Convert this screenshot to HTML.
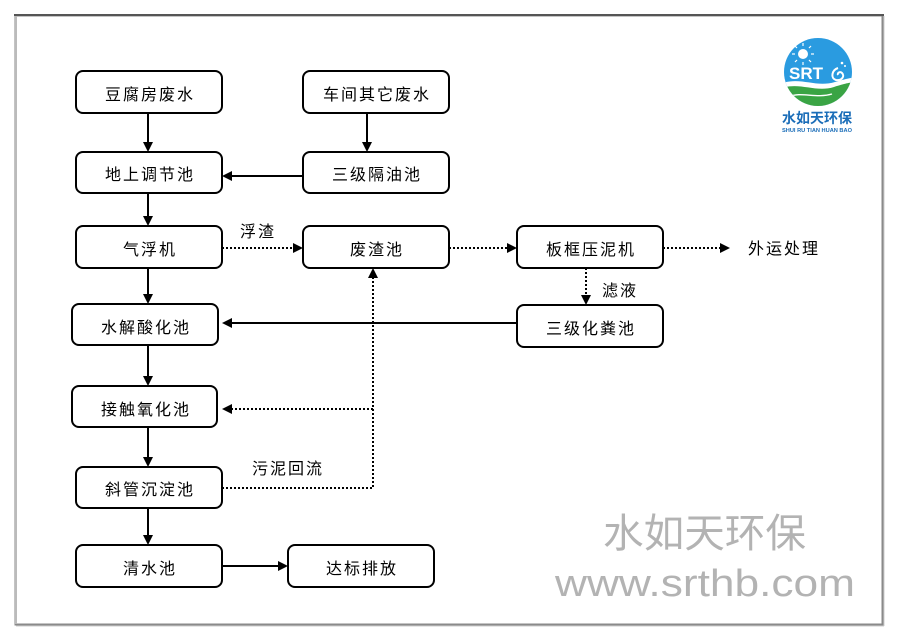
<!DOCTYPE html>
<html>
<head>
<meta charset="utf-8">
<style>
html,body{margin:0;padding:0;background:#fff;}
svg{display:block;}
text{font-family:"Liberation Sans","Noto Sans CJK SC",sans-serif;}
</style>
</head>
<body>
<svg width="900" height="642" viewBox="0 0 900 642" xmlns="http://www.w3.org/2000/svg">
<defs>
  <clipPath id="lc"><circle cx="818" cy="72" r="34"/></clipPath>
</defs>
<rect x="0" y="0" width="900" height="642" fill="#fff"/>
<!-- frame -->
<rect x="15.5" y="15.5" width="867" height="609" fill="none" stroke="#8a8a8a" stroke-width="2"/>
<line x1="14" y1="15" x2="884" y2="15" stroke="#555" stroke-width="2"/>
<line x1="16" y1="16" x2="16" y2="624" stroke="#bbb" stroke-width="2"/>
<line x1="884" y1="16" x2="884" y2="626" stroke="#ccc" stroke-width="1"/>
<line x1="16" y1="626" x2="884" y2="626" stroke="#ccc" stroke-width="1"/>

<!-- logo -->
<circle cx="818" cy="72" r="34" fill="#2a9be0"/>
<g clip-path="url(#lc)">
  <path d="M780 84 C800 76, 815 88, 835 82 S855 78, 856 78 L856 110 L780 110 Z" fill="#ffffff"/>
  <path d="M780 89 C798 81, 815 93, 834 87 S852 83, 856 83 L856 110 L780 110 Z" fill="#3aa444"/>
  <path d="M788 97 C802 91, 815 99, 832 94" stroke="#ffffff" stroke-width="1.4" fill="none"/>
</g>
<g stroke="#fff" stroke-width="1.2">
  <line x1="803" y1="43" x2="803" y2="46"/><line x1="803" y1="62" x2="803" y2="65"/>
  <line x1="792" y1="54" x2="795" y2="54"/><line x1="811" y1="54" x2="814" y2="54"/>
  <line x1="795" y1="46" x2="797" y2="48"/><line x1="809" y1="60" x2="811" y2="62"/>
  <line x1="811" y1="46" x2="809" y2="48"/><line x1="795" y1="62" x2="797" y2="60"/>
</g>
<circle cx="803" cy="54" r="5" fill="#fff"/>
<text x="806" y="79" font-size="17" font-weight="bold" fill="#fff" text-anchor="middle">SRT</text>
<path d="M838 68 C832 70, 830 78, 836 80 C842 81, 845 76, 842 73 C840 71, 837 73, 838 75" stroke="#fff" stroke-width="2" fill="none"/>
<circle cx="842" cy="63" r="1.3" fill="#fff"/>
<circle cx="845" cy="66" r="1" fill="#fff"/>
<text x="817" y="123" font-size="14" font-weight="bold" fill="#1a6db8" text-anchor="middle" textLength="70" lengthAdjust="spacingAndGlyphs">水如天环保</text>
<text x="817" y="132" font-size="5" font-weight="bold" fill="#1a6db8" text-anchor="middle" textLength="70" lengthAdjust="spacingAndGlyphs">SHUI RU TIAN HUAN BAO</text>

<!-- watermark -->
<text x="603" y="547" font-size="40" fill="#b3b3b3" textLength="203" lengthAdjust="spacingAndGlyphs">水如天环保</text>
<text x="555" y="596" font-size="38" fill="#b3b3b3" textLength="300" lengthAdjust="spacingAndGlyphs">www.srthb.com</text>

<!-- boxes -->
<g fill="#fff" stroke="#000" stroke-width="2">
  <rect x="76" y="71" width="146" height="42" rx="7"/>
  <rect x="303" y="71" width="146" height="42" rx="7"/>
  <rect x="76" y="152" width="146" height="41" rx="7"/>
  <rect x="303" y="152" width="146" height="41" rx="7"/>
  <rect x="76" y="226" width="146" height="42" rx="7"/>
  <rect x="303" y="226" width="146" height="42" rx="7"/>
  <rect x="517" y="226" width="146" height="42" rx="7"/>
  <rect x="517" y="305" width="146" height="42" rx="7"/>
  <rect x="72" y="304" width="146" height="41" rx="7"/>
  <rect x="72" y="386" width="145" height="41" rx="7"/>
  <rect x="76" y="467" width="146" height="41" rx="7"/>
  <rect x="76" y="545" width="146" height="42" rx="7"/>
  <rect x="288" y="545" width="146" height="42" rx="7"/>
</g>

<!-- box labels -->
<g font-size="16" fill="#000" text-anchor="middle" letter-spacing="2">
  <text x="150" y="100">豆腐房废水</text>
  <text x="377" y="100">车间其它废水</text>
  <text x="150" y="180">地上调节池</text>
  <text x="377" y="180">三级隔油池</text>
  <text x="150" y="255">气浮机</text>
  <text x="377" y="255">废渣池</text>
  <text x="591" y="255">板框压泥机</text>
  <text x="591" y="334">三级化粪池</text>
  <text x="146" y="333">水解酸化池</text>
  <text x="146" y="415">接触氧化池</text>
  <text x="150" y="495">斜管沉淀池</text>
  <text x="150" y="574">清水池</text>
  <text x="362" y="574">达标排放</text>
</g>

<!-- connector labels -->
<g font-size="16" fill="#000" letter-spacing="2">
  <text x="240" y="237">浮渣</text>
  <text x="748" y="254">外运处理</text>
  <text x="602" y="296">滤液</text>
  <text x="252" y="474">污泥回流</text>
</g>

<!-- solid connectors -->
<g stroke="#000" stroke-width="2" fill="none">
  <line x1="148" y1="113" x2="148" y2="143"/>
  <line x1="367" y1="113" x2="367" y2="143"/>
  <line x1="303" y1="176" x2="231" y2="176"/>
  <line x1="148" y1="193" x2="148" y2="217"/>
  <line x1="148" y1="268" x2="148" y2="295"/>
  <line x1="517" y1="323" x2="231" y2="323"/>
  <line x1="148" y1="345" x2="148" y2="377"/>
  <line x1="148" y1="427" x2="148" y2="458"/>
  <line x1="148" y1="508" x2="148" y2="536"/>
  <line x1="222" y1="566" x2="279" y2="566"/>
</g>
<!-- dotted connectors -->
<g stroke="#000" stroke-width="2" fill="none" stroke-dasharray="2,2">
  <line x1="222" y1="248" x2="294" y2="248"/>
  <line x1="449" y1="248" x2="508" y2="248"/>
  <line x1="663" y1="248" x2="721" y2="248"/>
  <line x1="586" y1="268" x2="586" y2="296"/>
  <line x1="373" y1="409" x2="231" y2="409"/>
  <polyline points="222,488 373,488 373,278"/>
</g>
<!-- arrowheads -->
<g fill="#000">
  <polygon points="143,142 153,142 148,152"/>
  <polygon points="362,142 372,142 367,152"/>
  <polygon points="232,171 232,181 222,176"/>
  <polygon points="143,216 153,216 148,226"/>
  <polygon points="293,243 293,253 303,248"/>
  <polygon points="507,243 507,253 517,248"/>
  <polygon points="720,243 720,253 730,248"/>
  <polygon points="581,295 591,295 586,305"/>
  <polygon points="143,294 153,294 148,304"/>
  <polygon points="232,318 232,328 222,323"/>
  <polygon points="143,376 153,376 148,386"/>
  <polygon points="232,404 232,414 222,409"/>
  <polygon points="143,457 153,457 148,467"/>
  <polygon points="368,278 378,278 373,268"/>
  <polygon points="143,535 153,535 148,545"/>
  <polygon points="278,561 278,571 288,566"/>
</g>
</svg>
</body>
</html>
